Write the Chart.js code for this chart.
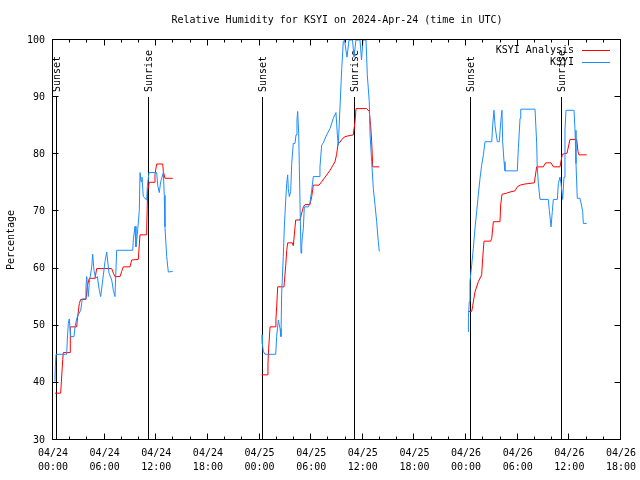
<!DOCTYPE html>
<html>
<head>
<meta charset="utf-8">
<script src="https://cdn.jsdelivr.net/npm/chart.js@4.4.1/dist/chart.umd.min.js"></script>
<style>
  html, body { margin: 0; padding: 0; background: #fff; }
  canvas { display: block; }
</style>
</head>
<body>
<canvas id="rhChart" width="640" height="480"></canvas>
<script>
// ==================== DATA ====================
const titleText = "Relative Humidity for KSYI on 2024-Apr-24 (time in UTC)";
const yLabel = "Percentage";
const seriesNames = ["KSYI Analysis", "KSYI"];
const dayLabels = ["04/24", "04/25", "04/26"];

// hours since 04/24 00:00 UTC, null value = no data
const analysisHours = [
  0.23, 0.89, 1.13, 1.20, 1.98, 2.01, 2.75, 2.82, 3.06, 3.22, 3.83, 3.99, 4.22, 4.88, 5.08, 6.82, 7.01, 7.20,
  7.79, 7.98, 8.17, 8.95, 9.14, 9.91, 10.11, 10.81, 10.89, 11.00, 11.19, 11.74, 11.85, 12.05, 12.75, 12.82, 13.01, 13.91,
  18,
  24.25, 24.90, 24.98, 25.06, 25.22, 25.88, 25.90, 25.99, 26.11, 26.84, 26.88, 27.04, 27.16, 27.27, 27.81, 27.92,
  28.04, 28.20, 28.70, 28.90, 29.09, 29.28, 29.86, 30.06, 30.25, 30.91, 31.22, 31.61, 32.19, 32.77, 32.96, 33.15,
  33.35, 33.55, 33.93, 34.89, 35.09, 35.21, 36.45, 36.75, 36.91, 37.03, 37.15, 37.92,
  42,
  48.26, 48.65, 48.77, 49.03, 49.42, 49.81, 49.93, 50.08, 50.86, 50.98, 51.17, 51.94, 52.02, 52.17, 52.72, 53.10,
  53.68, 53.95, 54.27, 54.84, 55.93, 56.20, 56.97, 57.24, 57.87, 58.14, 58.91, 59.06, 59.18, 59.73, 60.07, 60.85,
  61.00, 61.12, 62.01
];
const analysisRH = [
  38.2, 38.2, 44.1, 45.3, 45.3, 49.8, 49.8, 51.0, 53.9, 54.6, 54.6, 57.0, 58.3, 58.3, 60.0, 60.0, 59.2, 58.6,
  58.6, 59.5, 60.3, 60.3, 61.5, 61.6, 65.9, 65.9, 67.3, 73.7, 75.1, 75.1, 76.5, 78.3, 78.3, 77.0, 75.8, 75.8,
  null,
  41.4, 41.4, 43.5, 46.0, 49.8, 49.8, 51.0, 53.3, 56.8, 56.8, 57.6, 60.5, 63.2, 64.5, 64.5, 64.0,
  65.9, 68.5, 68.5, 69.7, 70.8, 71.2, 71.2, 72.6, 74.6, 74.6, 75.2, 76.0, 77.2, 78.7, 80.0, 82.1,
  82.1, 82.6, 83.1, 83.4, 85.7, 88.0, 88.0, 87.5, 85.0, 82.2, 77.8, 77.8,
  null,
  52.5, 52.5, 53.5, 55.9, 57.7, 58.9, 61.8, 64.8, 64.8, 65.3, 68.2, 68.2, 71.1, 73.0, 73.2, 73.4,
  73.6, 74.3, 74.6, 74.8, 75.0, 77.8, 77.8, 78.5, 78.5, 77.8, 77.8, 79.0, 80.0, 80.2, 82.6, 82.6,
  80.5, 79.9, 79.9
];

const obsHours = [
  0.23, 0.27, 0.35, 1.59, 1.66, 1.78, 1.89, 2.06, 2.44, 2.56, 2.75, 2.94, 3.22, 3.40, 3.72, 3.83, 3.92, 4.10,
  4.22, 4.50, 4.61, 4.76, 4.96, 5.15, 5.38, 5.54, 5.78, 6.04, 6.24, 6.51, 6.82, 7.01, 7.20, 7.40, 9.26, 9.33,
  9.53, 9.64, 9.80, 10.03, 10.11, 10.23, 10.34, 10.49, 10.89, 10.96, 11.15, 12.05, 12.17, 12.35, 12.51, 12.67,
  12.82, 12.93, 13.01, 13.21, 13.40, 13.91,
  18,
  24.29, 24.32, 24.44, 24.63, 25.88, 25.99, 26.18, 26.38, 26.49, 26.57, 26.76, 26.88, 27.04, 27.16, 27.27, 27.34,
  27.46, 27.62, 27.74, 27.92, 28.12, 28.24, 28.35, 28.43, 28.55, 28.62, 28.74, 28.82, 28.90, 28.97, 29.09, 29.20,
  29.67, 29.86, 30.06, 30.25, 30.91, 31.02, 31.22, 31.41, 31.80, 32.19, 32.57, 32.88, 33.04, 33.15, 33.55, 33.73,
  33.87, 34.16, 34.40, 34.80, 34.98, 35.20, 35.67, 35.85, 36.02, 36.37, 36.52, 36.75, 36.84, 37.03, 37.22, 37.42,
  37.61, 37.80, 37.92,
  42,
  48.26, 48.27, 48.37, 48.45, 48.65, 48.84, 49.03, 49.23, 49.42, 49.62, 49.81, 50.01, 50.20, 50.98, 51.09, 51.24,
  51.36, 51.48, 51.63, 51.86, 52.02, 52.17, 52.25, 52.41, 52.52, 53.95, 54.07, 54.27, 54.35, 56.01, 56.20, 56.27,
  56.39, 56.59, 57.55, 57.67, 57.87, 58.02, 58.14, 58.60, 58.72, 58.91, 59.03, 59.22, 59.38, 59.49, 59.61, 60.54,
  60.66, 60.77, 60.92, 61.23, 61.35, 61.55, 61.62, 62.01
];
const obsRH = [
  40.2, 42.8, 45.0, 45.0, 47.5, 50.4, 51.2, 48.1, 48.1, 49.8, 51.2, 51.9, 52.7, 54.7, 54.7, 56.8, 58.6, 55.1,
  57.6, 60.3, 62.5, 59.7, 58.3, 58.6, 56.2, 55.1, 58.0, 61.2, 62.9, 59.2, 58.0, 56.2, 55.1, 63.2, 63.2, 65.0,
  67.4, 63.8, 66.0, 70.2, 76.8, 75.2, 76.0, 72.6, 72.0, 74.3, 76.8, 76.8, 74.5, 73.3, 75.2, 76.0,
  76.8, 72.8, 67.3, 62.1, 59.4, 59.5,
  null,
  48.4, 46.9, 45.5, 45.0, 45.0, 48.1, 51.0, 49.5, 48.1, 55.7, 62.1, 67.3, 72.0, 74.9, 76.4, 74.0,
  72.6, 73.5, 78.4, 81.9, 81.9, 83.4, 86.0, 87.5, 83.7, 78.0, 68.5, 62.7, 64.0, 65.5, 67.0, 70.8,
  70.8, 71.5, 73.7, 76.1, 76.1, 77.8, 81.6, 82.0, 83.4, 84.5, 86.3, 87.3, 83.4, 81.6, 95.0, 99.7,
  100, 97.0, 100, 100, 97.0, 100, 100, 96.5, 100, 100, 93.9, 89.2, 83.4, 78.7, 74.0, 71.1,
  68.2, 64.7, 63.0,
  null,
  48.9, 51.5, 54.2, 57.7, 60.6, 63.5, 67.0, 70.0, 72.9, 75.8, 78.1, 79.9, 82.2, 82.2, 85.1, 87.7,
  85.1, 83.7, 82.2, 82.2, 85.5, 87.7, 82.2, 78.7, 77.1, 77.1, 81.0, 86.3, 87.9, 87.9, 82.0, 77.8,
  75.0, 72.1, 72.1, 70.2, 67.3, 70.0, 72.1, 72.1, 74.9, 76.0, 74.9, 72.1, 76.0, 84.2, 87.7, 87.7,
  84.2, 78.4, 72.3, 72.3, 71.5, 70.0, 67.9, 67.9
];

const sunsetHours = [0.31, 24.30, 48.40];
const sunriseHours = [11.08, 35.00, 59.07];

// ==================== STYLE ====================
const FONT_FAMILY = "'DejaVu Sans Mono', 'Liberation Mono', monospace";
const FONT = "10px " + FONT_FAMILY;
const RED = "#ff0000";
const BLUE = "#1e8cff";

const toPoints = (xs, ys) => xs.map((h, i) => ({ x: h, y: ys[i] }));

// cadre gnuplot : bordure, graduations intérieures, lignes soleil, légende, titre
const gnuplotFrame = {
  id: "gnuplotFrame",
  beforeDatasetsDraw(chart) {
    const { ctx, chartArea: a, scales: { x, y } } = chart;
    ctx.save();
    ctx.strokeStyle = "#000";
    ctx.fillStyle = "#000";
    ctx.lineWidth = 1;
    ctx.font = FONT;
    const top90 = Math.round(y.getPixelForValue(90));
    const drawSun = (hours, label) => {
      hours.forEach(h => {
        const px = Math.round(x.getPixelForValue(h)) + 0.5;
        ctx.beginPath();
        ctx.moveTo(px, top90);
        ctx.lineTo(px, a.bottom);
        ctx.stroke();
        ctx.save();
        ctx.translate(px + 1, top90 - 5);
        ctx.rotate(-Math.PI / 2);
        ctx.textAlign = "left";
        ctx.textBaseline = "middle";
        ctx.fillText(label, 0, 0);
        ctx.restore();
      });
    };
    drawSun(sunsetHours, "Sunset");
    drawSun(sunriseHours, "Sunrise");
    ctx.restore();
  },
  afterDraw(chart) {
    const { ctx, chartArea: a, scales: { x, y } } = chart;
    ctx.save();
    ctx.strokeStyle = "#000";
    ctx.fillStyle = "#000";
    ctx.lineWidth = 1;

    // bordure
    const L = Math.round(a.left) - 0.5, R = Math.round(a.right) - 0.5;
    const T = Math.round(a.top) - 0.5, B = Math.round(a.bottom) - 0.5;
    ctx.strokeRect(L, T, R - L, B - T);

    // graduations X (majeures 6 h, mineures 2 h)
    ctx.beginPath();
    for (let h = 0; h <= 66; h += 2) {
      const px = Math.round(x.getPixelForValue(h)) - 0.5;
      const len = h % 6 === 0 ? 6 : 3;
      ctx.moveTo(px, B); ctx.lineTo(px, B - len);
      ctx.moveTo(px, T); ctx.lineTo(px, T + len);
    }
    // graduations Y
    for (let v = 30; v <= 100; v += 10) {
      const py = Math.round(y.getPixelForValue(v)) - 0.5;
      ctx.moveTo(L, py); ctx.lineTo(L + 6, py);
      ctx.moveTo(R, py); ctx.lineTo(R - 6, py);
    }
    ctx.stroke();

    ctx.font = FONT;
    // titre
    ctx.textAlign = "center";
    ctx.textBaseline = "middle";
    ctx.fillText(titleText, (a.left + a.right) / 2, 20);

    // titre axe Y
    ctx.save();
    ctx.translate(11, (a.top + a.bottom) / 2);
    ctx.rotate(-Math.PI / 2);
    ctx.fillText(yLabel, 0, 0);
    ctx.restore();

    // légende
    const colors = [RED, BLUE];
    seriesNames.forEach((name, i) => {
      const ly = Math.round(a.top + 10 + i * 12) + 0.5;
      ctx.fillStyle = "#000";
      ctx.textAlign = "right";
      ctx.fillText(name, a.right - 47, ly);
      ctx.strokeStyle = colors[i];
      ctx.beginPath();
      ctx.moveTo(a.right - 39, ly);
      ctx.lineTo(a.right - 11, ly);
      ctx.stroke();
    });
    ctx.restore();
  }
};

new Chart(document.getElementById("rhChart"), {
  type: "line",
  data: {
    datasets: [
      {
        label: seriesNames[0],
        data: toPoints(analysisHours, analysisRH),
        borderColor: RED,
        borderWidth: 1,
        pointRadius: 0,
        tension: 0,
        spanGaps: false,
        order: 1
      },
      {
        label: seriesNames[1],
        data: toPoints(obsHours, obsRH),
        borderColor: BLUE,
        borderWidth: 1,
        pointRadius: 0,
        tension: 0,
        spanGaps: false,
        order: 0
      }
    ]
  },
  options: {
    responsive: false,
    animation: false,
    events: [],
    layout: { padding: { top: 40, right: 19, left: 0, bottom: 0 } },
    plugins: {
      legend: { display: false },
      title: { display: false },
      tooltip: { enabled: false }
    },
    scales: {
      x: {
        type: "linear",
        min: 0,
        max: 66,
        afterFit: s => { s.height = 40; s.paddingLeft = 0; s.paddingRight = 0; },
        grid: { display: false, drawTicks: false },
        border: { display: false },
        ticks: {
          stepSize: 6,
          autoSkip: false,
          maxRotation: 0,
          padding: 6,
          color: "#000",
          font: { family: FONT_FAMILY, size: 10, lineHeight: 1.4 },
          callback: v => [dayLabels[Math.floor(v / 24)], String(v % 24).padStart(2, "0") + ":00"]
        }
      },
      y: {
        min: 30,
        max: 100,
        afterFit: s => { s.width = 53; s.paddingTop = 0; s.paddingBottom = 0; },
        grid: { display: false, drawTicks: false },
        border: { display: false },
        ticks: {
          stepSize: 10,
          padding: 8,
          color: "#000",
          font: { family: FONT_FAMILY, size: 10 }
        }
      }
    }
  },
  plugins: [gnuplotFrame]
});
</script>
</body>
</html>
